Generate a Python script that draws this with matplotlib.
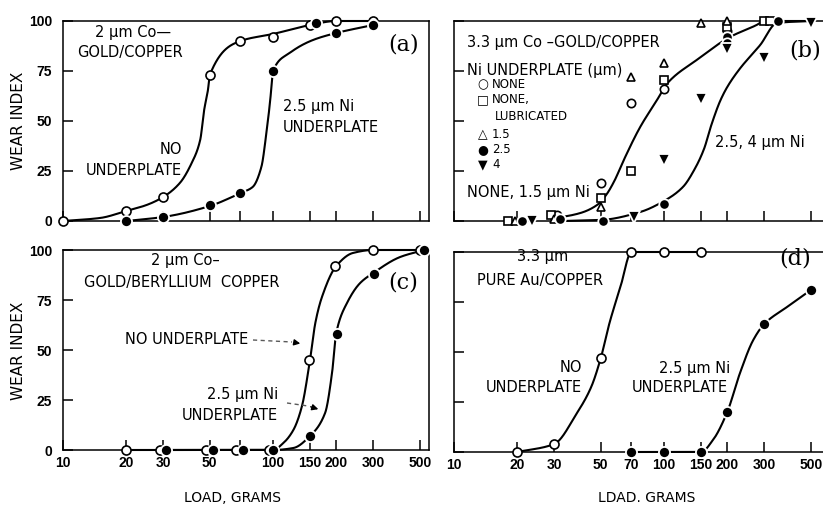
import numpy as np
import matplotlib
matplotlib.use("Agg")
import matplotlib.pyplot as plt
from matplotlib.ticker import FixedLocator, NullLocator
from matplotlib.lines import Line2D
from matplotlib.patches import FancyArrowPatch

W, H, DPI = 823, 508, 100
plt.rcParams["font.family"] = ["DejaVu Sans"]

# ---------------------------------------------------------------- axes data
load_ticks = [10, 20, 30, 50, 70, 100, 150, 200, 300, 500]
load_labels_c = ["10", "20", "30", "50", "", "100", "150", "200", "300", "500"]
load_labels_d = ["10", "20", "30", "50", "70", "100", "150", "200", "300", "500"]
wear_ticks = [0, 25, 50, 75, 100]
wear_labels = ["0", "25", "50", "75", "100"]

# ---------------------------------------------------------------- (a) 2 um Co-gold / copper
a_none_x = [10, 20, 30, 50, 70, 100, 150, 200, 300]
a_none_y = [0, 5, 12, 73, 90, 92, 98, 100, 100]
a_ni_x = [20, 30, 50, 70, 100, 160, 200, 300]
a_ni_y = [0, 2, 8, 14, 75, 99, 94, 98]
a_none_fit_x = [10, 15, 20, 25, 30, 36, 41, 45, 47, 49, 50, 70, 100, 150, 200, 300]
a_none_fit_y = [0, 1.5, 5, 8, 12, 19, 29, 40.5, 55.5, 65.5, 73, 90, 93.5, 98, 100, 100]
a_ni_fit_x = [20, 30, 50, 70, 80, 88, 93, 97, 100, 120, 155, 200, 300]
a_ni_fit_y = [0, 2, 7.5, 14, 17, 27, 44, 60.5, 75, 84, 90.5, 94, 98]

# ---------------------------------------------------------------- (b) 3.3 um Co-gold / copper
b_none_x = [31, 50, 70, 100, 200]
b_none_y = [3, 19, 59, 66, 95]
b_lub_x = [18, 29, 50, 70, 100, 200, 300, 320]
b_lub_y = [0, 3, 11.5, 25, 70.5, 97, 100, 100]
b_ni15_x = [19.5, 30, 50, 70, 100, 150, 200]
b_ni15_y = [0, 1, 7, 72, 79, 99, 100]
b_ni25_x = [21, 32, 51, 100, 200, 200, 350]
b_ni25_y = [0, 1, 0, 8.5, 92, 89, 100]
b_ni4_x = [23.5, 72, 100, 150, 200, 300, 500]
b_ni4_y = [0, 2, 30.5, 61, 86, 81.5, 99]
b_fit1_x = [29, 40, 48, 53, 58, 64, 77, 92, 104, 143, 206, 276, 300, 500]
b_fit1_y = [1, 4, 8, 13, 20, 30, 47, 60, 69, 80.5, 92, 98, 100, 100]
b_fit2_x = [33, 50, 77, 100, 123, 140, 155, 168, 185, 200, 229, 287, 345, 500]
b_fit2_y = [0, 0.5, 4.5, 10, 17, 26, 36, 48, 60, 67, 76, 88, 99, 100]

# ---------------------------------------------------------------- (c) 2 um Co-gold / beryllium copper
c_none_x = [20, 29, 48, 67, 96, 148, 197, 300, 500]
c_none_y = [0, 0, 0, 0, 0, 45, 92, 100, 100]
c_ni_x = [31, 52, 72, 100, 150, 202, 303, 525]
c_ni_y = [0, 0, 0, 0, 7, 58, 88, 100]
c_none_fit_x = [20, 100, 112, 125, 137, 150, 159, 171, 200, 240, 300, 500]
c_none_fit_y = [0, 0, 3.5, 10, 21.5, 45, 63.5, 76.5, 92, 98.5, 100, 100]
c_ni_fit_x = [30, 100, 125, 150, 177, 191, 200, 225, 260, 300, 403, 525]
c_ni_fit_y = [0, 0, 1, 7, 18.5, 38.5, 58.5, 73.5, 83.5, 88.5, 96.5, 100]

# ---------------------------------------------------------------- (d) 3.3 um pure Au / copper
d_none_x = [20, 30, 50, 70, 100, 150]
d_none_y = [0, 4, 47, 100, 100, 100]
d_ni_x = [70, 100, 150, 200, 300, 500]
d_ni_y = [0, 0, 0, 20, 64, 81]
d_none_fit_x = [20, 30, 38.5, 45, 50, 55, 62, 70, 100, 150]
d_none_fit_y = [0, 4, 19.5, 32.5, 47, 64.5, 82.5, 100, 100, 100]
d_ni_fit_x = [70, 100, 150, 171, 200, 230, 266, 300, 385, 500]
d_ni_fit_y = [0, 0, 0, 6, 20, 39.5, 56, 64, 72.5, 81]


def pchip(x, y, n=60):
    """Monotone cubic through (x, y); returns a dense polyline."""
    x = np.asarray(x, float)
    y = np.asarray(y, float)
    h = np.diff(x)
    d = np.diff(y) / h
    m = np.zeros_like(x)
    for k in range(1, len(x) - 1):
        if d[k - 1] * d[k] > 0:
            w1 = 2 * h[k] + h[k - 1]
            w2 = h[k] + 2 * h[k - 1]
            m[k] = (w1 + w2) / (w1 / d[k - 1] + w2 / d[k])
    m[0] = d[0]
    m[-1] = d[-1]
    xs, ys = [], []
    for k in range(len(x) - 1):
        t = np.linspace(0, 1, n, endpoint=(k == len(x) - 2))
        h00 = 2 * t**3 - 3 * t**2 + 1
        h10 = t**3 - 2 * t**2 + t
        h01 = -2 * t**3 + 3 * t**2
        h11 = t**3 - t**2
        xs.append(x[k] + t * h[k])
        ys.append(h00 * y[k] + h10 * h[k] * m[k] + h01 * y[k + 1] + h11 * h[k] * m[k + 1])
    return np.concatenate(xs), np.concatenate(ys)


def curve(ax, xv, yv):
    lx, ly = pchip(np.log10(xv), yv)
    ax.plot(10**lx, ly, color="black", lw=1.5, zorder=2, clip_on=False,
            solid_capstyle="round")


def open_pts(ax, xv, yv, marker="o", ms=6.5):
    ax.plot(xv, yv, marker, ms=ms, mfc="white", mec="black", mew=1.2,
            ls="none", zorder=3, clip_on=False)


def filled_pts(ax, xv, yv, marker="o", ms=8):
    ax.plot(xv, yv, marker, ms=ms, mfc="black", mec="white", mew=1.3,
            ls="none", zorder=4, clip_on=False)


fig = plt.figure(figsize=(W / DPI, H / DPI), dpi=DPI)


def make_axes(left, top, width, xmax, xlabels=None, ylabels=True):
    ax = fig.add_axes([left / W, (H - top - 200) / H, width / W, 200 / H])
    ax.set_xscale("log")
    ax.set_xlim(10, xmax)
    ax.set_ylim(0, 100)
    ax.xaxis.set_major_locator(FixedLocator(load_ticks))
    ax.xaxis.set_minor_locator(NullLocator())
    ax.set_yticks(wear_ticks)
    ax.set_xticklabels(xlabels if xlabels is not None else [""] * len(load_ticks))
    ax.set_yticklabels(wear_labels if ylabels else [""] * len(wear_ticks))
    ax.tick_params(direction="in", length=7, width=1.1, colors="black")
    ax.tick_params(axis="y", pad=8)
    ax.tick_params(axis="x", pad=4)
    for lab in ax.get_xticklabels() + ax.get_yticklabels():
        lab.set_fontfamily("Liberation Sans")
        lab.set_fontweight("bold")
        lab.set_fontsize(10)
    for s in ax.spines.values():
        s.set_linewidth(1.1)
    return ax


ax_a = make_axes(63, 21, 366, 553)
ax_b = make_axes(454, 21, 373, 597, ylabels=False)
ax_c = make_axes(63, 250, 366, 553, xlabels=load_labels_c)
ax_d = make_axes(454, 252, 373, 597, xlabels=load_labels_d, ylabels=False)

# ---- (a)
curve(ax_a, a_none_fit_x, a_none_fit_y)
curve(ax_a, a_ni_fit_x, a_ni_fit_y)
open_pts(ax_a, a_none_x, a_none_y)
filled_pts(ax_a, a_ni_x, a_ni_y)

# ---- (b)
curve(ax_b, b_fit1_x, b_fit1_y)
curve(ax_b, b_fit2_x, b_fit2_y)
open_pts(ax_b, b_none_x, b_none_y, "o", 6)
open_pts(ax_b, b_lub_x, b_lub_y, "s", 6)
open_pts(ax_b, b_ni15_x, b_ni15_y, "^", 6)
filled_pts(ax_b, b_ni25_x, b_ni25_y, "o", 7.5)
filled_pts(ax_b, b_ni4_x, b_ni4_y, "v", 8.5)

# ---- (c)
curve(ax_c, c_none_fit_x, c_none_fit_y)
curve(ax_c, c_ni_fit_x, c_ni_fit_y)
open_pts(ax_c, c_none_x, c_none_y)
filled_pts(ax_c, c_ni_x, c_ni_y)

# ---- (d)
curve(ax_d, d_none_fit_x, d_none_fit_y)
curve(ax_d, d_ni_fit_x, d_ni_fit_y)
open_pts(ax_d, d_none_x, d_none_y)
filled_pts(ax_d, d_ni_x, d_ni_y)


# ---------------------------------------------------------------- text (figure pixels)
def txt(x, y, s, size=10.5, ha="left", **kw):
    fig.text(x / W, 1 - y / H, s, fontsize=size, ha=ha, va="center", **kw)


def panel_tag(x, y, s):
    fig.text(x / W, 1 - y / H, s, fontsize=16, ha="center", va="center",
             family="DejaVu Serif")


# axis titles
for yc in (121, 351):
    fig.text(19 / W, 1 - yc / H, "WEAR INDEX", rotation=90, fontsize=11,
             ha="center", va="center")
txt(233, 498, "LOAD, GRAMS", 10, ha="center")
txt(647, 498, "LDAD. GRAMS", 10, ha="center")

# (a)
txt(133, 33, "2 µm Co—", ha="center")
txt(130, 53, "GOLD/COPPER", ha="center")
txt(182, 150, "NO", ha="right")
txt(182, 170, "UNDERPLATE", ha="right")
txt(283, 107, "2.5 µm Ni")
txt(283, 128, "UNDERPLATE")
panel_tag(404, 45, "(a)")

# (b)
txt(467, 43, "3.3 µm Co –GOLD/COPPER")
txt(467, 70, "Ni UNDERPLATE (µm)")
for yy, sym, lab in [(85, "○", "NONE"), (100, "□", "NONE,"), (135, "△", "1.5"),
                     (150, "●", "2.5"), (165, "▼", "4")]:
    txt(483, yy, sym, 9, ha="center")
    txt(492, yy, lab, 8.5)
txt(495, 117, "LUBRICATED", 8.5)
txt(467, 193, "NONE, 1.5 µm Ni")
txt(715, 142, "2.5, 4 µm Ni")
panel_tag(805, 50, "(b)")

# (c)
txt(185, 260, "2 µm Co–", ha="center")
txt(182, 283, "GOLD/BERYLLIUM  COPPER", ha="center")
txt(248, 340, "NO UNDERPLATE", ha="right")
txt(278, 395, "2.5 µm Ni", ha="right")
txt(278, 415, "UNDERPLATE", ha="right")
panel_tag(403, 282, "(c)")


def pointer(x0, y0, x1, y1, x2, y2):
    fig.add_artist(Line2D([x0 / W, x1 / W], [1 - y0 / H, 1 - y1 / H],
                          transform=fig.transFigure, color="0.35", lw=1.0,
                          ls=(0, (3, 2.5))))
    fig.add_artist(FancyArrowPatch(
        (x1 / W, 1 - y1 / H), (x2 / W, 1 - y2 / H), transform=fig.transFigure,
        arrowstyle="-|>", mutation_scale=9, color="black", lw=1.0))


pointer(253, 340, 292, 342, 303, 344)
pointer(287, 403, 308, 406, 321, 410)

# (d)
txt(543, 257, "3.3 µm", ha="center")
txt(540, 280, "PURE Au/COPPER", ha="center")
txt(582, 368, "NO", ha="right")
txt(582, 387, "UNDERPLATE", ha="right")
txt(730, 368, "2.5 µm Ni", ha="right")
txt(728, 387, "UNDERPLATE", ha="right")
panel_tag(795, 258, "(d)")

fig.savefig("out.png", dpi=DPI)
